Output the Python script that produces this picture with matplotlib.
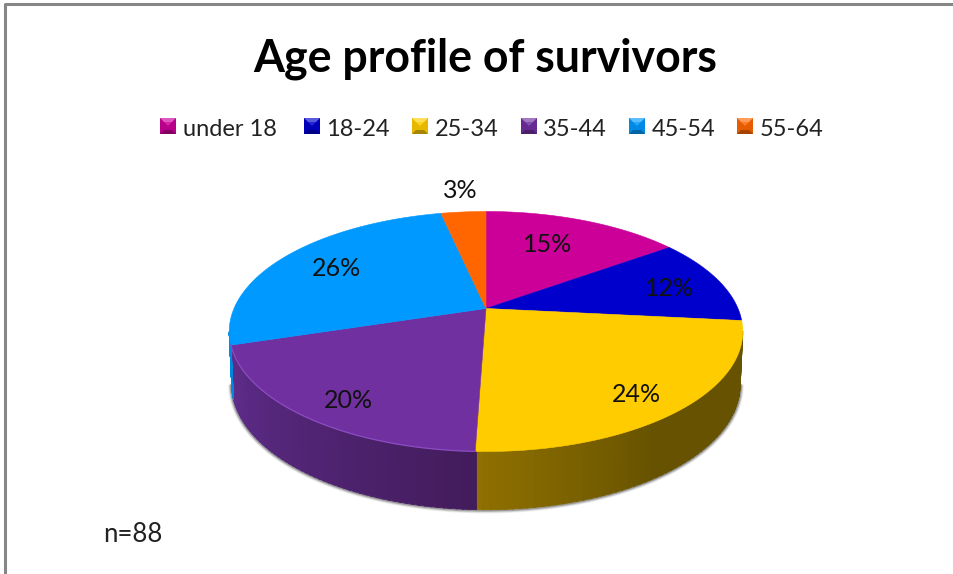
import numpy as np
import matplotlib
import matplotlib.pyplot as plt

matplotlib.use('Agg')

plt.rcParams['font.family'] = ['Lato', 'DejaVu Sans']

title = 'Age profile of survivors'
note = 'n=88'
categories = ['under 18', '18-24', '25-34', '35-44', '45-54', '55-64']
shares = [15, 11.6, 23.9, 19.6, 26.4, 3.4]
colors = ['#cc0099', '#0000cc', '#ffcc00', '#7030a0', '#0099ff', '#ff6600']
wall_left = ['#99007a', '#00009a', '#8f7000', '#5f2d8c', '#0088e0', '#b84a00']
wall_right = ['#660052', '#000066', '#665200', '#431c5c', '#0088e0', '#803300']

# where the label sits, picture pixels
label_x = [548, 670, 636, 348, 337, 460]
label_y = [244, 289, 395, 401, 269, 191]

legend_box_x = [160, 304, 412, 521, 629, 737]
legend_text_x = [183, 326, 435, 543, 652, 760]

W, H = 954, 574

# perspective of the tilted pie
APEX_X, APEX_Y = 486, 308.5
KX, KY, P = 252, 115.6, 0.1916
BASE_SCALE_X, BASE_SCALE_Y, BASE_DROP = 0.99, 1.04, 52.5


def top_point(a):
    x, y = np.cos(a), np.sin(a)
    d = 1 + P * y
    return APEX_X + KX * x / d, APEX_Y - KY * y / d


def base_point(a):
    x, y = np.cos(a), np.sin(a)
    d = 1 + P * y
    return APEX_X + BASE_SCALE_X * KX * x / d, APEX_Y + BASE_DROP - BASE_SCALE_Y * KY * y / d


fig = plt.figure(figsize=(W / 100, H / 100), dpi=100)
ax = fig.add_axes([0, 0, 1, 1])
ax.set_xlim(0, W)
ax.set_ylim(H, 0)
ax.axis('off')

# chart frame
ax.plot([5.5, 5.5, W + 5], [H + 5, 4, 4], color='#868686', lw=2.2)

ax.text(485.5, 59, title, fontsize=32.1, fontweight='bold', ha='center', va='center', color='black')
ax.text(133, 534, note, fontsize=18.5, ha='center', va='center', color='#222222')

edges = 90 - np.cumsum([0] + shares) / sum(shares) * 360
vis_start = np.radians(180 + np.degrees(np.arcsin(P)))
vis_end = np.radians(360 - np.degrees(np.arcsin(P)))

# soft shadow under the wall
sweep = np.linspace(vis_start, vis_end, 160)
bx, by = base_point(sweep)
for off, alpha in [(3.5, 0.06), (2.5, 0.10), (1.5, 0.16), (0.7, 0.25)]:
    ax.plot(bx + off * np.cos(sweep) * 0.8, by - off * np.sin(sweep) * 0.8,
            color='black', alpha=alpha, lw=1.4, solid_capstyle='round')

# side wall, cut into thin strips for the shading
for i in range(len(shares)):
    a0 = np.radians(edges[i] % 360)
    a1 = np.radians(edges[i + 1] % 360)
    if a1 > a0:
        a0 += 2 * np.pi
    # slices run clockwise, so a0 is the larger angle
    lo, hi = max(a1, vis_start), min(a0, vis_end)
    if lo >= hi:
        lo, hi = max(a1 - 2 * np.pi, vis_start), min(a0 - 2 * np.pi, vis_end)
    if lo >= hi:
        continue
    c0 = np.array(matplotlib.colors.to_rgb(wall_left[i]))
    c1 = np.array(matplotlib.colors.to_rgb(wall_right[i]))
    ts = np.linspace(lo, hi, 60)
    for j in range(len(ts) - 1):
        seg = np.array([ts[j], ts[j + 1] + 0.004])
        tx, ty = top_point(seg)
        bx, by = base_point(seg)
        f = j / (len(ts) - 2)
        if i == 2:
            # yellow wall darkens fast, then stays flat
            f = min(f / 0.45, 1)
        col = c0 + (c1 - c0) * f
        ax.fill([tx[0], tx[1], bx[1], bx[0]], [ty[0], ty[1], by[1], by[0]],
                color=col, lw=0.6, zorder=2)

# top face
for i in range(len(shares)):
    ang = np.radians(np.linspace(edges[i], edges[i + 1], 120))
    x, y = top_point(ang)
    ax.fill(np.r_[APEX_X, x], np.r_[APEX_Y, y], color=colors[i], lw=0.4, zorder=3)
    if i == 3:
        # lit rim on the purple slice
        ax.plot(x, y, color='#8a4cc0', lw=0.9, zorder=4)
    ax.text(label_x[i], label_y[i], '%.0f%%' % shares[i], fontsize=18, ha='center', va='center',
            color='#111111', zorder=5)

# legend with bevelled boxes
size = 16
for i in range(len(categories)):
    x0 = legend_box_x[i]
    y0 = 118
    base = np.array(matplotlib.colors.to_rgb(colors[i]))
    light = base + (1 - base) * 0.35
    dark = base * 0.65
    ax.fill([x0, x0 + size, x0 + size, x0], [y0, y0, y0 + size, y0 + size], color=base * 0.9, lw=0, zorder=4)
    ax.fill([x0, x0 + size, x0 + size - 4, x0 + 4], [y0, y0, y0 + 4, y0 + 4], color=light, lw=0, zorder=4)
    ax.fill([x0, x0 + size, x0 + size - 4, x0 + 4], [y0 + size, y0 + size, y0 + size - 4, y0 + size - 4],
            color=dark, lw=0, zorder=4)
    ax.fill([x0 + 4, x0 + size - 4, x0 + size / 2], [y0 + 4, y0 + 4, y0 + size / 2],
            color=base * 0.6 + light * 0.4, lw=0, zorder=5)
    ax.text(legend_text_x[i], 129, categories[i], fontsize=17, ha='left', va='center', color='#222222')

fig.savefig('out.png', dpi=100)
